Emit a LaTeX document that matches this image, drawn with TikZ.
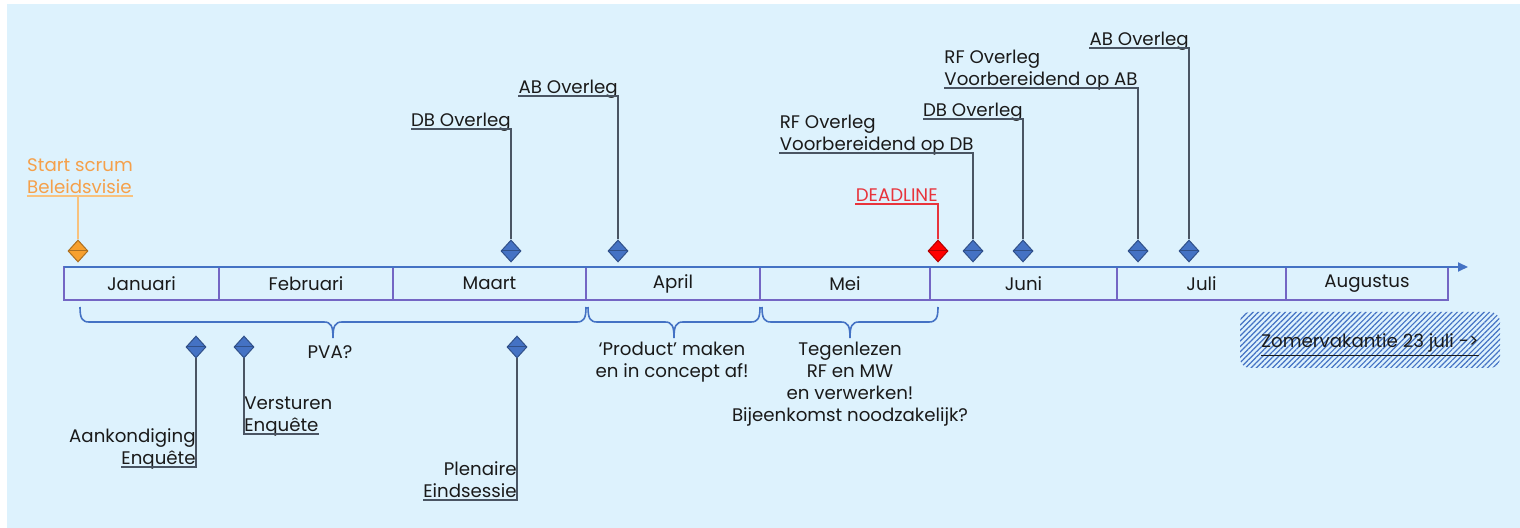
\documentclass[tikz,border=0pt]{standalone}
\usepackage{fontspec}
\setmainfont{Poppins}
\usetikzlibrary{shapes.geometric,patterns.meta,positioning,arrows.meta}

\definecolor{achtergrond}{HTML}{DDF2FD}
\definecolor{maandlijn}{HTML}{7466C4}
\definecolor{pijl}{HTML}{4472C4}
\definecolor{ruit}{HTML}{4472C4}
\definecolor{oranjeruit}{HTML}{F7A02E}
\definecolor{oranje}{HTML}{F5A04A}
\definecolor{oranjelicht}{HTML}{F8C27E}
\definecolor{rood}{HTML}{E8343C}
\definecolor{steel}{HTML}{4A5563}
\definecolor{tekst}{HTML}{1A1A1A}

% accolade onder de maanden, van x=#1 tot x=#2
\newcommand{\accolade}[2]{%
  \pgfmathsetmacro{\xm}{(#1+#2)/2}
  \draw[pijl,line width=0.8pt] (#1,307) .. controls (#1,318) and ({#1+2},322) .. ({#1+9},322)
    -- ({\xm-9},322) .. controls ({\xm-2},322) and (\xm,326) .. (\xm,338)
    .. controls (\xm,326) and ({\xm+2},322) .. ({\xm+9},322)
    -- ({#2-9},322) .. controls ({#2-2},322) and (#2,318) .. (#2,307);}

\begin{document}
\begin{tikzpicture}[x=0.5pt,y=-0.5pt,
  font=\fontsize{9.1}{10.9}\selectfont,text=tekst,
  maand/.style={rectangle,draw=maandlijn,line width=0.9pt,outer sep=0pt,
    minimum height=16.5pt,minimum width=#1,inner sep=0pt},
  ruitje/.style={diamond,draw=#1!70!black,fill=#1,line width=0.5pt,
    minimum width=10pt,minimum height=11pt,inner sep=0pt,
    path picture={\draw[#1!70!black,line width=0.5pt]
      (path picture bounding box.west) -- (path picture bounding box.east);}},
  ruitje/.default=ruit,
  bijschrift/.style={inner xsep=0pt,inner ysep=1pt,align=left,anchor=south east},
  steellijn/.style={draw=steel,line width=0.7pt,to path={|- (\tikztotarget)}},
  vakantie/.style={rectangle,rounded corners=5pt,minimum width=130pt,
    minimum height=28pt,pattern={Lines[angle=45,distance=1.9pt,line width=0.6pt]},
    pattern color=pijl}]

  \useasboundingbox (0,0) rectangle (1520,528);
  \fill[achtergrond] (7,4) rectangle (1520,528);

  % maanden
  \node[maand=77.5pt,anchor=north west] (jan) at (64,267) {Januari};
  \node[maand=87pt,right=0pt of jan] (feb) {Februari};
  \node[maand=96.5pt,right=0pt of feb] (mrt) {Maart};
  \node[maand=87pt,right=0pt of mrt] (apr) {April};
  \node[maand=85pt,right=0pt of apr] (mei) {Mei};
  \node[maand=93.5pt,right=0pt of mei] (jun) {Juni};
  \node[maand=84.5pt,right=0pt of jun] (jul) {Juli};
  \node[maand=81pt,right=0pt of jul] (aug) {Augustus};

  \coordinate (pijlpunt) at (1468,267);
  \draw[pijl,line width=0.9pt,-{Triangle[length=5pt,width=4.5pt]}] (jan.north west) -- (pijlpunt);

  % mijlpalen
  \node[ruitje=oranjeruit] (dstart) at (78,251) {};
  \node[ruitje] (dmrt) at (511,251) {};
  \node[ruitje] (dapr) at (618,251) {};
  \node[ruitje=red] (ddead) at (938,251) {};
  \node[ruitje] (drfdb) at (973,251) {};
  \node[ruitje] (ddb) at (1023,251) {};
  \node[ruitje] (drfab) at (1138,251) {};
  \node[ruitje] (dab) at (1189,251) {};
  \node[ruitje] (daank) at (196,347) {};
  \node[ruitje] (dverst) at (244,347) {};
  \node[ruitje] (dplen) at (517,347) {};

  % bijschriften
  \node[bijschrift,anchor=south,text=oranje] (start) at (80,196) {Start scrum\\\smash{Beleidsvisie}};
  \node[bijschrift] (dbmrt) at (511,129) {\smash{DB Overleg}};
  \node[bijschrift] (abapr) at (618,96) {\smash{AB Overleg}};
  \node[bijschrift,text=rood] (dead) at (938,204) {\smash{DEADLINE}};
  \node[bijschrift] (rfdb) at (974,153) {RF Overleg\\\smash{Voorbereidend op DB}};
  \node[bijschrift] (db) at (1023,119) {\smash{DB Overleg}};
  \node[bijschrift] (rfab) at (1138,88) {RF Overleg\\\smash{Voorbereidend op AB}};
  \node[bijschrift] (ab) at (1189,48) {\smash{AB Overleg}};
  \node[bijschrift,align=right] (aank) at (196,467) {\llap{Aankondiging}\\\smash{Enquête}};
  \node[bijschrift,anchor=south west] (verst) at (244,434) {\rlap{Versturen}\\\smash{Enquête}};
  \node[bijschrift,align=right] (plen) at (517,500) {Plenaire\\\smash{Eindsessie}};

  \draw[oranjelicht,line width=0.7pt] (start.south west) -- (start.south east)
    (dstart.north) -- (dstart.north |- start.south);

  \path (dmrt.north) edge[steellijn] (dbmrt.south west)
    (dapr.north) edge[steellijn] (abapr.south west)
    (ddead.north) edge[steellijn,draw=rood] (dead.south west)
    (drfdb.north) edge[steellijn] (rfdb.south west)
    (ddb.north) edge[steellijn] (db.south west)
    (drfab.north) edge[steellijn] (rfab.south west)
    (dab.north) edge[steellijn] (ab.south west)
    (daank.south) edge[steellijn] (aank.south west)
    (dverst.south) edge[steellijn] (verst.south east)
    (dplen.south) edge[steellijn] (plen.south west);

  % fasen
  \accolade{80}{586}
  \accolade{588}{760}
  \accolade{762}{938}

  \node (pva) at (330,352) {PVA?};
  \node[align=center,anchor=north,inner sep=0pt] (product) at (672,342) {‘Product’ maken\\en in concept af!};
  \node[align=center,anchor=north,inner sep=0pt] (tegen) at (850,342) {Tegenlezen\\RF en MW\\en verwerken!\\Bijeenkomst noodzakelijk?};

  \node[vakantie] (zomer) at (1370,340) {\raisebox{-2.5pt}[\height][\depth]{\underline{Zomervakantie 23 juli ->}}};
\end{tikzpicture}
\end{document}
